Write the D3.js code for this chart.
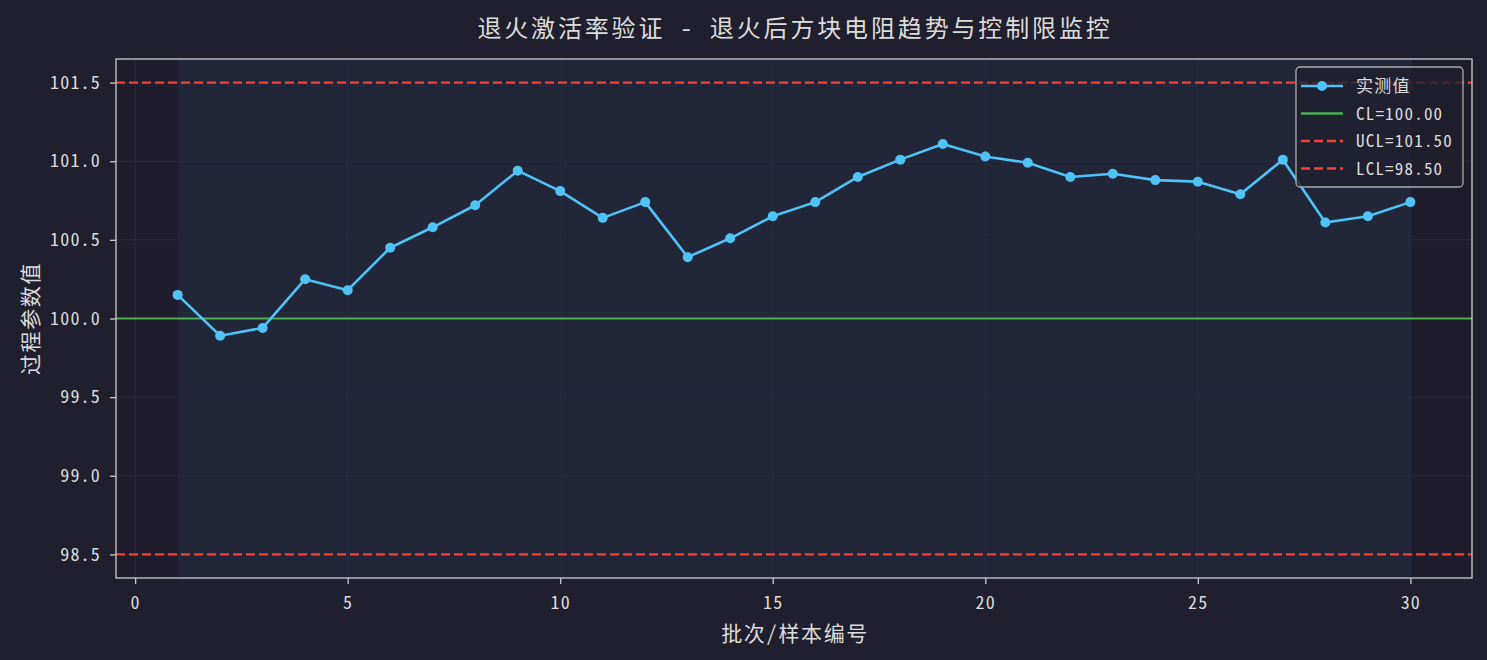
<!DOCTYPE html>
<html>
<head>
<meta charset="utf-8">
<script src="https://cdn.jsdelivr.net/npm/d3@7"></script>
<style>
  body { margin: 0; background: #1f1f2e; }
  svg text { font-family: "Noto Sans Mono CJK SC", "Noto Sans CJK SC", monospace; fill: #dcdcdc; }
</style>
</head>
<body>
<div id="chart"></div>
<script>
// batch index and measured sheet resistance
const batches = d3.range(1, 31)
const values = [100.15, 99.89, 99.94, 100.25, 100.18, 100.45, 100.58, 100.72, 100.94, 100.81,
                100.64, 100.74, 100.39, 100.51, 100.65, 100.74, 100.90, 101.01, 101.11, 101.03,
                100.99, 100.90, 100.92, 100.88, 100.87, 100.79, 101.01, 100.61, 100.65, 100.74]
const CL = 100.0
const UCL = 101.5
const LCL = 98.5
const xTicks = [0, 5, 10, 15, 20, 25, 30]
const yTicks = [98.5, 99.0, 99.5, 100.0, 100.5, 101.0, 101.5]
const legendLabels = ["实测值", "CL=100.00", "UCL=101.50", "LCL=98.50"]

const W = 1487, H = 660
const margin = {top: 59, right: 15, bottom: 82, left: 116}
const w = W - margin.left - margin.right
const h = H - margin.top - margin.bottom

const svg = d3.select("#chart").append("svg")
    .attr("width", W).attr("height", H)
svg.append("rect").attr("width", W).attr("height", H).attr("fill", "#1f1f2e")

const g = svg.append("g").attr("transform", `translate(${margin.left},${margin.top})`)

const x = d3.scaleLinear().domain([-0.45, 31.45]).range([0, w])
const y = d3.scaleLinear().domain([98.35, 101.65]).range([h, 0])

// axes background
g.append("rect").attr("width", w).attr("height", h).attr("fill", "#1f1d2b")

// shaded range of the samples
g.append("rect")
    .attr("x", x(batches[0])).attr("y", 0)
    .attr("width", x(batches[batches.length - 1]) - x(batches[0]))
    .attr("height", h)
    .attr("fill", "#212639")

// grid
g.selectAll("line.gx").data(xTicks).enter().append("line")
    .attr("x1", d => x(d)).attr("x2", d => x(d))
    .attr("y1", 0).attr("y2", h)
    .attr("stroke", "#2b2d40").attr("stroke-width", 1)
g.selectAll("line.gy").data(yTicks).enter().append("line")
    .attr("x1", 0).attr("x2", w)
    .attr("y1", d => y(d)).attr("y2", d => y(d))
    .attr("stroke", "#2b2d40").attr("stroke-width", 1)

// control lines
g.append("line").attr("x1", 0).attr("x2", w)
    .attr("y1", y(CL)).attr("y2", y(CL))
    .attr("stroke", "#4caf50").attr("stroke-width", 2.2)
;[UCL, LCL].forEach(v => {
    g.append("line").attr("x1", 0).attr("x2", w)
        .attr("y1", y(v)).attr("y2", y(v))
        .attr("stroke", "#f44336").attr("stroke-width", 2.2)
        .attr("stroke-dasharray", "9,4")
})

// series
const pts = batches.map((b, i) => ({b: b, v: values[i]}))
g.append("path")
    .datum(pts)
    .attr("fill", "none")
    .attr("stroke", "#4fc3f7")
    .attr("stroke-width", 2.6)
    .attr("stroke-linejoin", "round")
    .attr("d", d3.line().x(d => x(d.b)).y(d => y(d.v)))
g.selectAll("circle.pt").data(pts).enter().append("circle")
    .attr("cx", d => x(d.b)).attr("cy", d => y(d.v))
    .attr("r", 5).attr("fill", "#4fc3f7")

// axes
const xAxis = g.append("g").attr("transform", `translate(0,${h})`)
    .call(d3.axisBottom(x).tickValues(xTicks).tickSize(6).tickPadding(12).tickFormat(d3.format("d")))
const yAxis = g.append("g")
    .call(d3.axisLeft(y).tickValues(yTicks).tickSize(6).tickPadding(9).tickFormat(d3.format(".1f")))
;[xAxis, yAxis].forEach(a => {
    a.select(".domain").remove()
    a.selectAll("line").attr("stroke", "#cccccc").attr("stroke-width", 1.3)
    a.selectAll("text").style("font-size", "18px").style("letter-spacing", "1.2px").attr("fill", "#dcdcdc")
})

// spines
g.append("rect").attr("width", w).attr("height", h)
    .attr("fill", "none").attr("stroke", "#cccccc").attr("stroke-width", 1.3)

// title and labels
svg.append("text").attr("x", margin.left + w / 2 + 1).attr("y", 37)
    .attr("text-anchor", "middle").style("font-size", "24px").style("letter-spacing", "2.85px")
    .text("退火激活率验证 - 退火后方块电阻趋势与控制限监控")
svg.append("text").attr("x", margin.left + w / 2 + 1).attr("y", 641)
    .attr("text-anchor", "middle").style("font-size", "21px").style("letter-spacing", "1.6px")
    .text("批次/样本编号")
svg.append("text")
    .attr("transform", `translate(38,${margin.top + h / 2}) rotate(-90)`)
    .attr("text-anchor", "middle").style("font-size", "21px").style("letter-spacing", "1.6px")
    .text("过程参数值")

// legend
const lg = svg.append("g").attr("transform", "translate(1296,67)")
lg.append("rect").attr("width", 167).attr("height", 120).attr("rx", 4)
    .attr("fill", "#1f1f2e").attr("fill-opacity", 0.8)
    .attr("stroke", "#aaaaaa").attr("stroke-width", 1.3)
const styles = [
    {c: "#4fc3f7", dash: null, marker: true},
    {c: "#4caf50", dash: null, marker: false},
    {c: "#f44336", dash: "9,4", marker: false},
    {c: "#f44336", dash: "9,4", marker: false}
]
legendLabels.forEach((t, i) => {
    const yy = 19 + i * 27.5
    lg.append("line").attr("x1", 5).attr("x2", 47).attr("y1", yy).attr("y2", yy)
        .attr("stroke", styles[i].c).attr("stroke-width", 2.4)
        .attr("stroke-dasharray", styles[i].dash)
    if (styles[i].marker) {
        lg.append("circle").attr("cx", 26).attr("cy", yy).attr("r", 5).attr("fill", styles[i].c)
    }
    lg.append("text").attr("x", 60).attr("y", yy + 6).style("font-size", "17px")
        .style("letter-spacing", "1.2px").text(t)
})
</script>
</body>
</html>
